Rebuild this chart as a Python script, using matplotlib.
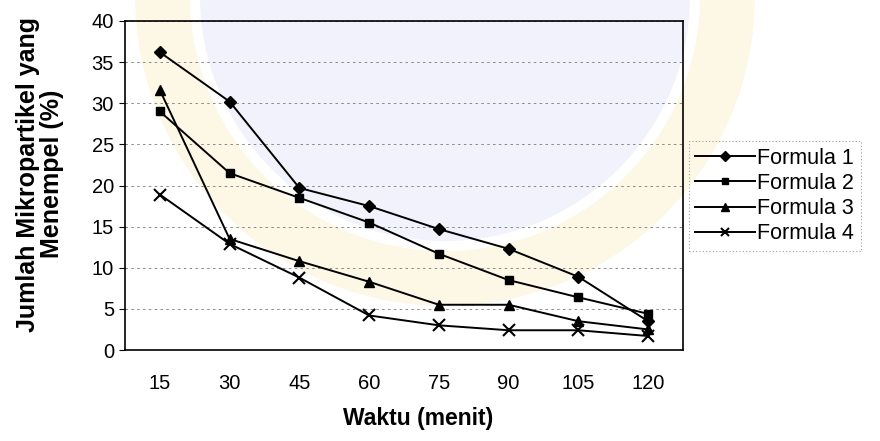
import matplotlib.pyplot as plt
from matplotlib.patches import Circle, Wedge
import numpy as np

waktu = [15, 30, 45, 60, 75, 90, 105, 120]
formula_1 = [36.2, 30.2, 19.7, 17.5, 14.7, 12.3, 8.9, 3.5]
formula_2 = [29.0, 21.5, 18.5, 15.5, 11.7, 8.5, 6.4, 4.4]
formula_3 = [31.6, 13.5, 10.8, 8.3, 5.5, 5.5, 3.5, 2.5]
formula_4 = [18.9, 12.9, 8.8, 4.2, 3.0, 2.4, 2.4, 1.7]

series = [
    ("Formula 1", formula_1, "D", 6),
    ("Formula 2", formula_2, "s", 6),
    ("Formula 3", formula_3, "^", 7),
    ("Formula 4", formula_4, "x", 8),
]

plt.rcParams['font.family'] = ['Liberation Sans', 'DejaVu Sans']

fig = plt.figure(figsize=(8.8, 4.41), dpi=100)

# faint watermark in the background (logo of the scan)
fig.patches.append(Circle((4.45, 4.45), 2.45, transform=fig.dpi_scale_trans,
                          facecolor="#f1f2fc", edgecolor="none", zorder=-2))
fig.patches.append(Wedge((4.45, 4.45), 3.1, 0, 360, width=0.55,
                         transform=fig.dpi_scale_trans,
                         facecolor="#fdf8e6", edgecolor="none", zorder=-2))

ax = fig.add_axes([125 / 880, 1 - 350 / 441, 558 / 880, 329 / 441])
ax.set_facecolor("none")

x = np.arange(len(waktu))
for name, vals, mk, ms in series:
    ax.plot(x, vals, color="black", linewidth=1.4, marker=mk, markersize=ms,
            markeredgewidth=1.5 if mk == "x" else 1, label=name)

ax.set_xlim(-0.5, len(waktu) - 0.5)
ax.set_ylim(0, 40)
ax.set_yticks(range(0, 41, 5))
ax.set_xticks(x)
ax.set_xticklabels([str(w) for w in waktu])
ax.yaxis.grid(True, color="#777777", linestyle=(0, (3, 4)), linewidth=0.6)
ax.set_axisbelow(True)
for s in ax.spines.values():
    s.set_linewidth(1.2)
ax.tick_params(axis="y", labelsize=14.5, length=4, direction="out", pad=4)
ax.tick_params(axis="x", labelsize=14.5, length=0, pad=17)

fig.text(418 / 880, 1 - 419 / 441, "Waktu (menit)", fontsize=16.5,
         fontweight="bold", ha="center", va="center")
fig.text(40 / 880, 1 - 174 / 441, "Jumlah Mikropartikel yang\nMenempel (%)",
         fontsize=18, fontweight="bold", rotation=90, ha="center",
         va="center", linespacing=1.0, multialignment="center")

leg = ax.legend(loc="upper left", bbox_to_anchor=(1.01, 0.635), frameon=True,
                fontsize=15.5, handlelength=2.8, borderpad=0.3,
                labelspacing=0.2, handletextpad=0.1, borderaxespad=0.0,
                fancybox=False, markerscale=0.8)
leg.get_frame().set_edgecolor("#888888")
leg.get_frame().set_linestyle((0, (1, 2)))
leg.get_frame().set_linewidth(0.8)
leg.get_frame().set_facecolor("none")

fig.savefig("out.png", dpi=100)
